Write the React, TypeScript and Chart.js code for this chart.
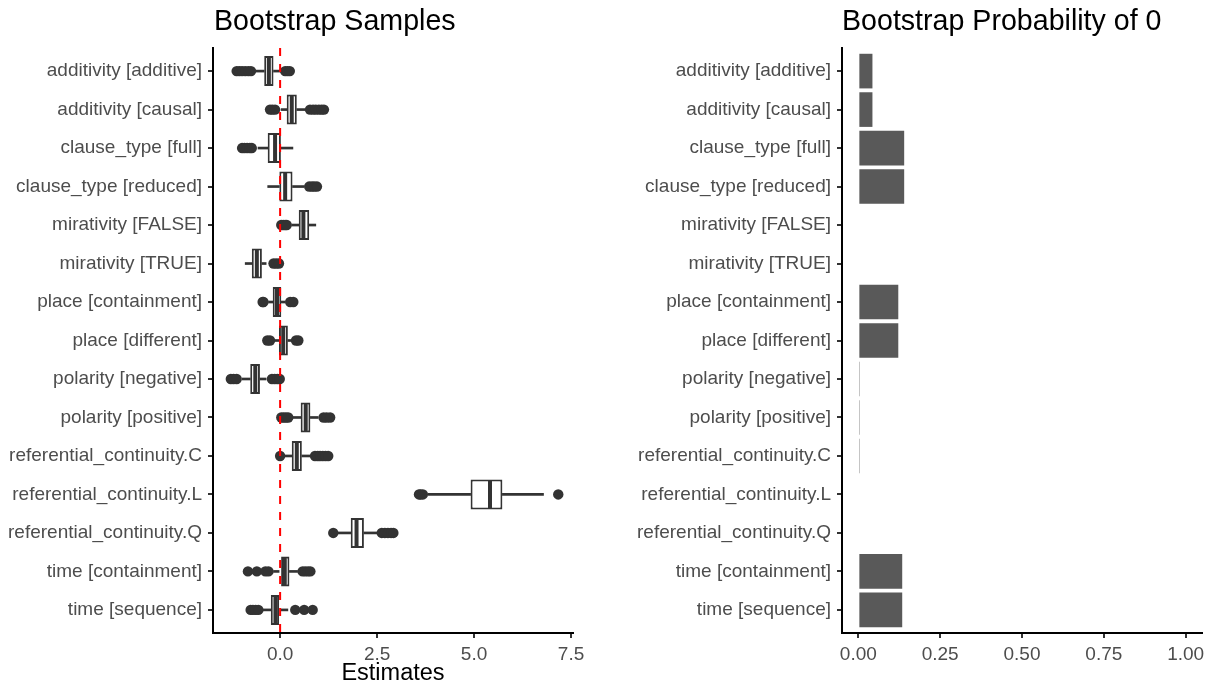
import React, { useEffect, useRef } from 'react';
import { Chart, registerables } from 'chart.js';

Chart.register(...registerables);

// ---------- data ----------
const categories = [
  'additivity [additive]',
  'additivity [causal]',
  'clause_type [full]',
  'clause_type [reduced]',
  'mirativity [FALSE]',
  'mirativity [TRUE]',
  'place [containment]',
  'place [different]',
  'polarity [negative]',
  'polarity [positive]',
  'referential_continuity.C',
  'referential_continuity.L',
  'referential_continuity.Q',
  'time [containment]',
  'time [sequence]',
];

const whiskerLow = [-0.65, 0.0, -0.57, -0.32, 0.3, -0.9, -0.3, -0.15, -0.98, 0.33, 0.13, 3.82, 1.45, -0.17, -0.44];
const q1 = [-0.41, 0.17, -0.32, -0.02, 0.48, -0.73, -0.19, -0.03, -0.77, 0.53, 0.3, 4.91, 1.82, 0.0, -0.24];
const median = [-0.29, 0.3, -0.13, 0.13, 0.6, -0.6, -0.08, 0.08, -0.64, 0.66, 0.43, 5.41, 1.97, 0.12, -0.12];
const q3 = [-0.17, 0.43, 0.02, 0.32, 0.75, -0.47, 0.03, 0.2, -0.52, 0.78, 0.56, 5.73, 2.16, 0.24, 0.0];
const whiskerHigh = [0.05, 0.64, 0.33, 0.62, 0.92, -0.36, 0.13, 0.3, -0.36, 0.98, 0.77, 6.79, 2.5, 0.45, 0.2];

const outliers = [
  [-1.12, -1.05, -0.98, -0.9, -0.82, -0.75, 0.13, 0.19, 0.25],
  [-0.26, -0.2, -0.13, 0.77, 0.85, 0.92, 1.0, 1.07, 1.13],
  [-0.98, -0.92, -0.85, -0.78, -0.73],
  [0.75, 0.82, 0.88, 0.95],
  [0.03, 0.08, 0.13, 0.17],
  [-0.17, -0.1, -0.03],
  [-0.45, -0.43, 0.26, 0.34],
  [-0.33, -0.26, 0.41, 0.47],
  [-1.27, -1.2, -1.12, -0.21, -0.14, -0.07, -0.01],
  [0.03, 0.09, 0.15, 0.21, 1.12, 1.2, 1.29],
  [0.0, 0.9, 0.97, 1.03, 1.1, 1.17, 1.24],
  [3.58, 3.62, 3.68, 7.17],
  [1.37, 2.62, 2.7, 2.78, 2.86, 2.92],
  [-0.83, -0.6, -0.38, -0.3, 0.58, 0.65, 0.72, 0.78],
  [-0.76, -0.7, -0.63, -0.56, 0.39, 0.62, 0.84],
];

const probZero = [0.043, 0.043, 0.14, 0.14, 0, 0, 0.122, 0.122, 0.002, 0.002, 0.002, 0, 0, 0.134, 0.134];

const leftTicks = [0, 2.5, 5, 7.5];
const leftTickLabels = ['0.0', '2.5', '5.0', '7.5'];
const rightTicks = [0, 0.25, 0.5, 0.75, 1];
const rightTickLabels = ['0.00', '0.25', '0.50', '0.75', '1.00'];

// ---------- styles ----------
const FONT = '"Liberation Sans", Arial, Helvetica, sans-serif';
const DARK = '#333333';
const TEXT = '#4d4d4d';

function yScale(width: number) {
  return {
    type: 'linear',
    min: 0.4,
    max: 15.6,
    reverse: true,
    offset: false,
    afterBuildTicks: (s: any) => {
      s.ticks = categories.map((_, i) => ({ value: i + 1 }));
    },
    afterFit: (s: any) => {
      s.width = width;
    },
    ticks: {
      autoSkip: false,
      padding: 6,
      color: TEXT,
      font: { family: FONT, size: 19 },
      callback: (v: any) => categories[Math.round(Number(v)) - 1] ?? '',
    },
    grid: { offset: false, drawOnChartArea: false, drawTicks: true, tickLength: 5, color: DARK, lineWidth: 2 },
    border: { display: true, color: '#000000', width: 2 },
  };
}

function xScale(min: number, max: number, ticks: number[], labels: string[], title?: string) {
  return {
    type: 'linear',
    min,
    max,
    offset: false,
    afterBuildTicks: (s: any) => {
      s.ticks = ticks.map((v) => ({ value: v }));
    },
    afterFit: (s: any) => {
      s.height = 56;
    },
    ticks: {
      autoSkip: false,
      maxRotation: 0,
      padding: 5,
      color: TEXT,
      font: { family: FONT, size: 19 },
      callback: (v: any) => {
        const idx = ticks.findIndex((t) => Math.abs(t - Number(v)) < 1e-9);
        return idx >= 0 ? labels[idx] : '';
      },
    },
    grid: { offset: false, drawOnChartArea: false, drawTicks: true, tickLength: 5, color: DARK, lineWidth: 2 },
    border: { display: true, color: '#000000', width: 2 },
    title: title
      ? { display: true, text: title, color: '#000000', font: { family: FONT, size: 23.5 }, padding: { top: 0, bottom: 1 } }
      : { display: false },
  };
}

export default function App() {
  const leftRef = useRef<HTMLCanvasElement>(null);
  const rightRef = useRef<HTMLCanvasElement>(null);

  useEffect(() => {
    const rowOf = (i: number) => i + 1;

    const left = new Chart(leftRef.current as HTMLCanvasElement, {
      type: 'bar',
      data: {
        datasets: [
          {
            type: 'line',
            data: [
              { x: 0, y: 0.4 },
              { x: 0, y: 15.6 },
            ],
            borderColor: '#ff0000',
            borderWidth: 2,
            borderDash: [8, 8],
            pointRadius: 0,
            fill: false,
          },
          {
            type: 'scatter',
            data: outliers.flatMap((arr, i) => arr.map((v) => ({ x: v, y: rowOf(i) }))),
            pointRadius: 5.2,
            pointHoverRadius: 5.2,
            pointBackgroundColor: DARK,
            pointBorderWidth: 0,
          },
          {
            type: 'scatter',
            data: median.map((v, i) => ({ x: v, y: rowOf(i) })),
            pointStyle: 'line',
            pointRadius: 14,
            pointHoverRadius: 14,
            pointRotation: 90,
            pointBorderColor: DARK,
            pointBorderWidth: 4,
          },
          {
            type: 'bar',
            indexAxis: 'y',
            data: q1.map((v, i) => ({ x: [v, q3[i]], y: rowOf(i) })),
            backgroundColor: '#ffffff',
            borderColor: DARK,
            borderWidth: 2,
            borderSkipped: false,
            grouped: false,
            barPercentage: 0.78,
            categoryPercentage: 1,
          },
          {
            type: 'bar',
            indexAxis: 'y',
            data: whiskerLow.map((v, i) => ({ x: [v, q1[i]], y: rowOf(i) })),
            backgroundColor: DARK,
            borderWidth: 0,
            grouped: false,
            barPercentage: 1,
            categoryPercentage: 1,
            maxBarThickness: 2,
          },
          {
            type: 'bar',
            indexAxis: 'y',
            data: whiskerHigh.map((v, i) => ({ x: [q3[i], v], y: rowOf(i) })),
            backgroundColor: DARK,
            borderWidth: 0,
            grouped: false,
            barPercentage: 1,
            categoryPercentage: 1,
            maxBarThickness: 2,
          },
        ] as any,
      },
      options: {
        animation: false,
        responsive: false,
        devicePixelRatio: 1,
        layout: { padding: { left: 0, right: 33, top: 48, bottom: 0 } },
        plugins: { legend: { display: false }, tooltip: { enabled: false }, title: { display: false } },
        scales: {
          x: xScale(-1.73, 7.55, leftTicks, leftTickLabels, 'Estimates'),
          y: yScale(213),
        } as any,
      },
    });

    const right = new Chart(rightRef.current as HTMLCanvasElement, {
      type: 'bar',
      data: {
        datasets: [
          {
            type: 'bar',
            indexAxis: 'y',
            data: probZero.map((v, i) => ({ x: v, y: rowOf(i) })),
            backgroundColor: '#595959',
            borderWidth: 0,
            barPercentage: 0.9,
            categoryPercentage: 1,
          },
        ] as any,
      },
      options: {
        animation: false,
        responsive: false,
        devicePixelRatio: 1,
        layout: { padding: { left: 0, right: 10, top: 48, bottom: 0 } },
        plugins: { legend: { display: false }, tooltip: { enabled: false }, title: { display: false } },
        scales: {
          x: xScale(-0.05, 1.05, rightTicks, rightTickLabels),
          y: yScale(236),
        } as any,
      },
    });

    return () => {
      left.destroy();
      right.destroy();
    };
  }, []);

  const titleStyle: React.CSSProperties = {
    position: 'absolute',
    top: 6,
    fontFamily: FONT,
    fontSize: 28.6,
    lineHeight: '28px',
    color: '#000000',
    whiteSpace: 'nowrap',
  };

  return (
    <div style={{ position: 'fixed', left: 0, top: 0, width: 1212, height: 689, background: '#ffffff', overflow: 'hidden' }}>
      <canvas ref={leftRef} width={606} height={689} style={{ position: 'absolute', left: 0, top: 0, width: 606, height: 689 }} />
      <canvas ref={rightRef} width={606} height={689} style={{ position: 'absolute', left: 606, top: 0, width: 606, height: 689 }} />
      <div style={{ ...titleStyle, left: 214 }}>Bootstrap Samples</div>
      <div style={{ ...titleStyle, left: 842 }}>Bootstrap Probability of 0</div>
    </div>
  );
}
